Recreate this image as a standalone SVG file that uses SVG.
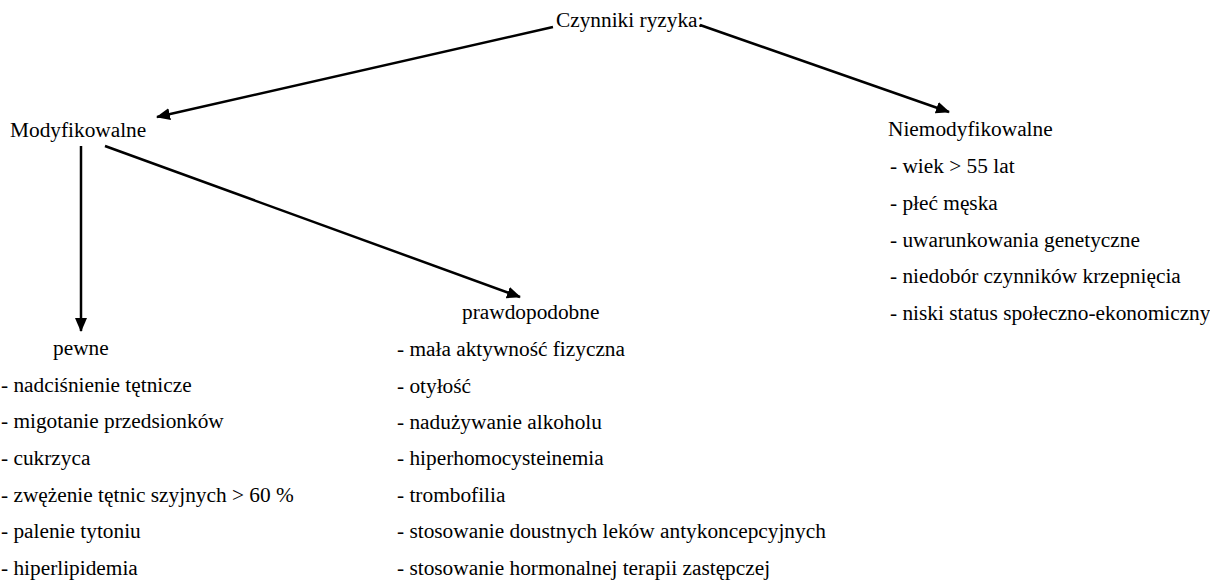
<svg xmlns="http://www.w3.org/2000/svg" width="1210" height="581" viewBox="0 0 1210 581">
<style>
text{font-family:"Liberation Serif","Times New Roman",serif;font-size:21.33px;fill:#000}
.c{stroke:#000;stroke-width:2.5;fill:none}
</style>
<defs>
<marker id="ah" markerUnits="userSpaceOnUse" markerWidth="16" markerHeight="14" refX="13" refY="6" orient="auto" viewBox="0 0 16 12">
<path d="M0,0 L14,6 L0,12 z" fill="#000"/>
</marker>
</defs>
<rect width="1210" height="581" fill="#fff"/>
<g id="connectors">
<line class="c" x1="553" y1="27" x2="157" y2="117" marker-end="url(#ah)"/>
<line class="c" x1="700" y1="25" x2="949" y2="112" marker-end="url(#ah)"/>
<line class="c" x1="81" y1="146" x2="81" y2="331" marker-end="url(#ah)"/>
<line class="c" x1="105" y1="146" x2="520" y2="297" marker-end="url(#ah)"/>
</g>
<g id="root"><text x="556" y="27">Czynniki ryzyka:</text></g>
<g id="modyfikowalne"><text x="10" y="137">Modyfikowalne</text></g>
<g id="niemodyfikowalne">
<text x="888" y="136">Niemodyfikowalne</text>
<text x="890" y="173">- wiek &gt; 55 lat</text>
<text x="890" y="210">- płeć męska</text>
<text x="890" y="247">- uwarunkowania genetyczne</text>
<text x="890" y="283">- niedobór czynników krzepnięcia</text>
<text x="890" y="320">- niski status społeczno-ekonomiczny</text>
</g>
<g id="pewne">
<text x="53" y="355">pewne</text>
<text x="1" y="392">- nadciśnienie tętnicze</text>
<text x="1" y="428">- migotanie przedsionków</text>
<text x="1" y="465">- cukrzyca</text>
<text x="1" y="502">- zwężenie tętnic szyjnych &gt; 60 %</text>
<text x="1" y="538">- palenie tytoniu</text>
<text x="1" y="575">- hiperlipidemia</text>
</g>
<g id="prawdopodobne">
<text x="462" y="319">prawdopodobne</text>
<text x="397" y="356">- mała aktywność fizyczna</text>
<text x="397" y="393">- otyłość</text>
<text x="397" y="429">- nadużywanie alkoholu</text>
<text x="397" y="465">- hiperhomocysteinemia</text>
<text x="397" y="502">- trombofilia</text>
<text x="397" y="538">- stosowanie doustnych leków antykoncepcyjnych</text>
<text x="397" y="575">- stosowanie hormonalnej terapii zastępczej</text>
</g>
</svg>
